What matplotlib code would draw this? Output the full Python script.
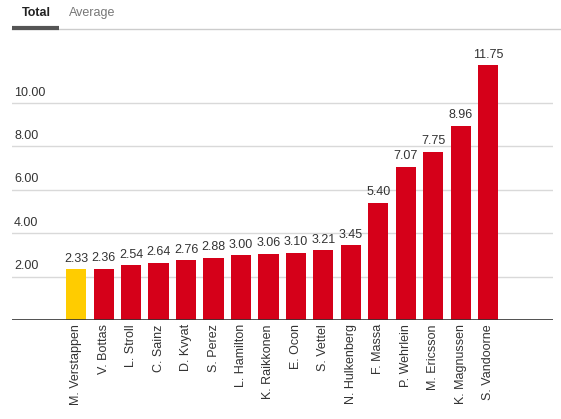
import matplotlib
matplotlib.use("Agg")
import matplotlib.pyplot as plt
import numpy as np

plt.rcParams['font.family'] = ['Liberation Sans', 'DejaVu Sans']

drivers = ["M. Verstappen", "V. Bottas", "L. Stroll", "C. Sainz", "D. Kvyat",
           "S. Perez", "L. Hamilton", "K. Raikkonen", "E. Ocon", "S. Vettel",
           "N. Hulkenberg", "F. Massa", "P. Wehrlein", "M. Ericsson",
           "K. Magnussen", "S. Vandoorne"]
totals = [2.33, 2.36, 2.54, 2.64, 2.76, 2.88, 3.00, 3.06, 3.10, 3.21,
          3.45, 5.40, 7.07, 7.75, 8.96, 11.75]
yticks = [2, 4, 6, 8, 10]
tabs = ["Total", "Average"]

W, H = 561, 419
fig = plt.figure(figsize=(W / 100, H / 100), dpi=100)

# axes area in pixels: x 12..553, baseline y=320, 21.7 px per unit
top_val = 13.0
ax_top = 320 - top_val * 21.7
ax = fig.add_axes([12 / W, (H - 320) / H, (553 - 12) / W, (320 - ax_top) / H])

x = np.arange(len(drivers))
colors = ["#ffcc00"] + ["#d50019"] * (len(drivers) - 1)
ax.bar(x, totals, width=0.73, color=colors, zorder=3)

for xi, v in zip(x, totals):
    ax.text(xi, v + 0.2, f"{v:.2f}", ha="center", va="bottom",
            fontsize=9, color="#333333")

ax.set_xlim(-2.33, 17.35)
ax.set_ylim(0, top_val)

for t in yticks:
    ax.axhline(t, color="#d9d9d9", lw=1, zorder=1)
    ax.text(0.004, t + 0.2, f"{t:.2f}", transform=ax.get_yaxis_transform(),
            ha="left", va="bottom", fontsize=9, color="#333333")

ax.axhline(0, color="#333333", lw=1.2, zorder=4)
ax.set_yticks([])
ax.set_xticks(x)
ax.set_xticklabels(drivers, rotation=90, fontsize=9, color="#333333")
ax.tick_params(axis="x", length=0, pad=3)
for s in ax.spines.values():
    s.set_visible(False)

# tab header
fig.text(22 / W, 1 - 13 / H, tabs[0], fontsize=9, fontweight="bold",
         color="#222222", va="center", ha="left")
fig.text(69 / W, 1 - 13 / H, tabs[1], fontsize=9, color="#777777",
         va="center", ha="left")
fig.add_artist(plt.Line2D([12 / W, 1], [1 - 29 / H] * 2, color="#cccccc", lw=1))
fig.add_artist(plt.Line2D([12 / W, 59 / W], [1 - 28.5 / H] * 2, color="#555555",
                          lw=3, solid_capstyle="butt"))

fig.savefig("out.png", dpi=100)
